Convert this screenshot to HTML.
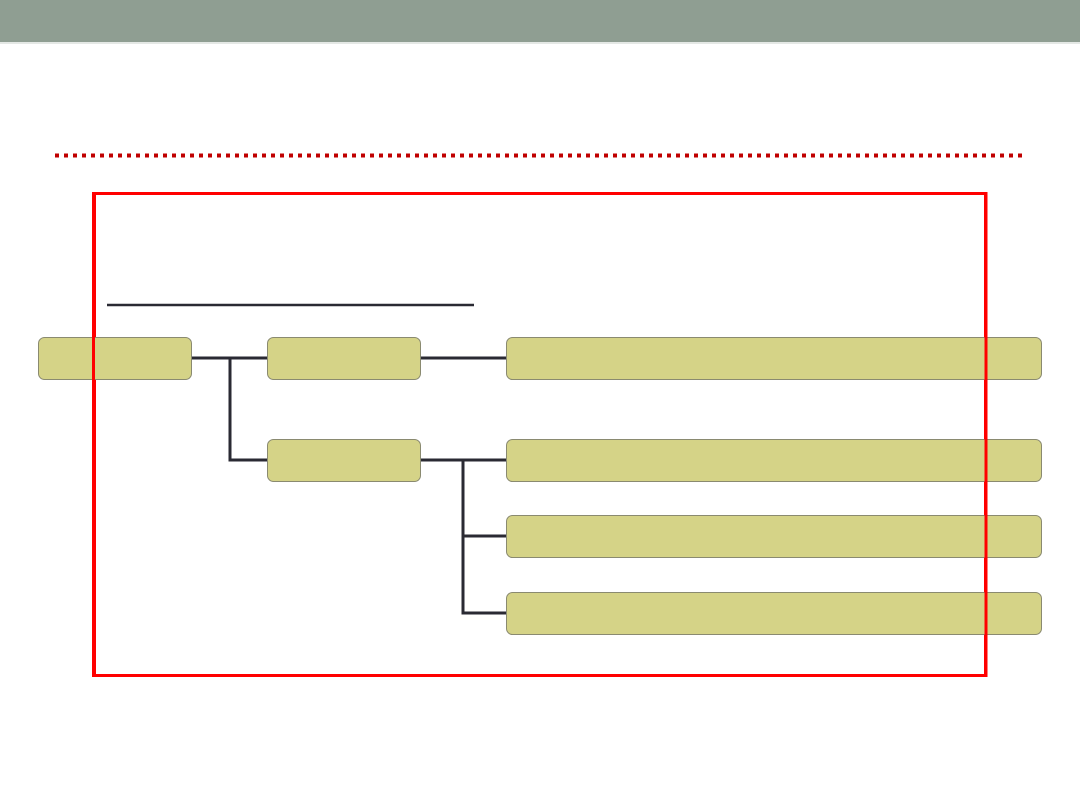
<!DOCTYPE html>
<html><head><meta charset="utf-8"><style>
html,body{margin:0;padding:0;background:#fff;width:1080px;height:810px;overflow:hidden}
</style></head><body>
<svg width="1080" height="810" viewBox="0 0 1080 810" xmlns="http://www.w3.org/2000/svg">
<rect x="0" y="0" width="1080" height="42" fill="#8f9e92"/>
<rect x="0" y="42" width="1080" height="2" fill="#e4e8e5"/>
<line x1="55" y1="155.5" x2="1027" y2="155.5" stroke="#c00000" stroke-width="4" stroke-dasharray="4 5"/>
<rect x="94.5" y="193.5" width="891" height="482" fill="none" stroke="#ff0000" stroke-width="3"/>
<line x1="107" y1="305" x2="474" y2="305" stroke="#2a2a33" stroke-width="2.5"/>
<g stroke="#2a2a33" stroke-width="3" fill="none">
<polyline points="191,358 267,358"/>
<polyline points="230,358 230,460 267,460"/>
<polyline points="420,358 506,358"/>
<polyline points="420,460 506,460"/>
<polyline points="463,460 463,613 506,613"/>
<polyline points="463,536 506,536"/>
</g>
<g fill="#d5d387" stroke="#8a8a70" stroke-width="1">
<rect x="38.5" y="337.5" width="153" height="42" rx="6"/>
<rect x="267.5" y="337.5" width="153" height="42" rx="6"/>
<rect x="506.5" y="337.5" width="535" height="42" rx="6"/>
<rect x="267.5" y="439.5" width="153" height="42" rx="6"/>
<rect x="506.5" y="439.5" width="535" height="42" rx="6"/>
<rect x="506.5" y="515.5" width="535" height="42" rx="6"/>
<rect x="506.5" y="592.5" width="535" height="42" rx="6"/>
</g>
<line x1="93.5" y1="192" x2="93.5" y2="677" stroke="#ff0000" stroke-width="3"/>
<line x1="986" y1="192" x2="986" y2="677" stroke="#ff0000" stroke-width="3"/>
</svg>
</body></html>
